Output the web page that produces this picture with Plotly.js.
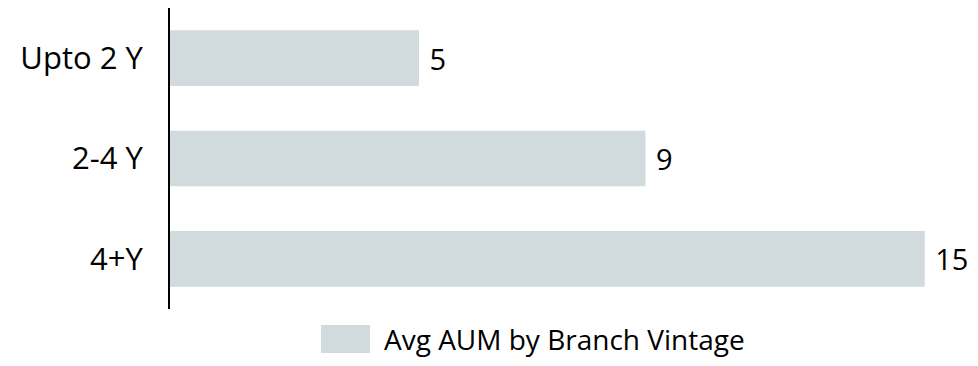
<!DOCTYPE html>
<html>
<head>
<meta charset="utf-8">
<script src="https://cdn.plot.ly/plotly-3.0.1.min.js"></script>
<style>html,body{margin:0;padding:0;background:#fff;}#chart{width:978px;height:366px;}</style>
</head>
<body>
<div id="chart"></div>
<script>
const categories = ["Upto 2 Y", "2-4 Y", "4+Y"];
const values = [4.95, 9.45, 15.0];
const seriesName = "Avg AUM by Branch Vintage";
const barColor = "#D1DADD";
const fontFamily = "'Open Sans', sans-serif";

const trace = {
  type: "bar",
  orientation: "h",
  y: categories,
  x: values,
  name: seriesName,
  marker: {color: barColor},
  texttemplate: " %{x:.0f}",
  textposition: "outside",
  cliponaxis: false,
  textfont: {family: fontFamily, size: 29, color: "#000"},
  showlegend: false,
  hoverinfo: "none"
};

const layout = {
  width: 978, height: 366,
  margin: {l: 170, r: 3, t: 8, b: 57},
  paper_bgcolor: "#fff", plot_bgcolor: "#fff",
  bargap: 0.445,
  font: {family: fontFamily, size: 28, color: "#000"},
  xaxis: {range: [0, 16], showgrid: false, zeroline: false, showticklabels: false, showline: false, fixedrange: true},
  yaxis: {autorange: "reversed", showline: true, linecolor: "#000", linewidth: 2, showgrid: false, zeroline: false,
          ticks: "", ticklabelstandoff: 19, tickfont: {family: fontFamily, size: 31, color: "#000"}},
  shapes: [{type: "rect", xref: "paper", yref: "paper", x0: 0.1876, x1: 0.2484, y0: -0.053, y1: -0.146,
            fillcolor: barColor, line: {width: 0}}],
  annotations: [{xref: "paper", yref: "paper", x: 0.263, y: -0.1, xanchor: "left", yanchor: "middle",
                 text: seriesName, showarrow: false, font: {family: fontFamily, size: 28, color: "#000"}}]
};

Plotly.newPlot("chart", [trace], layout, {displayModeBar: false, staticPlot: true});
</script>
</body>
</html>
